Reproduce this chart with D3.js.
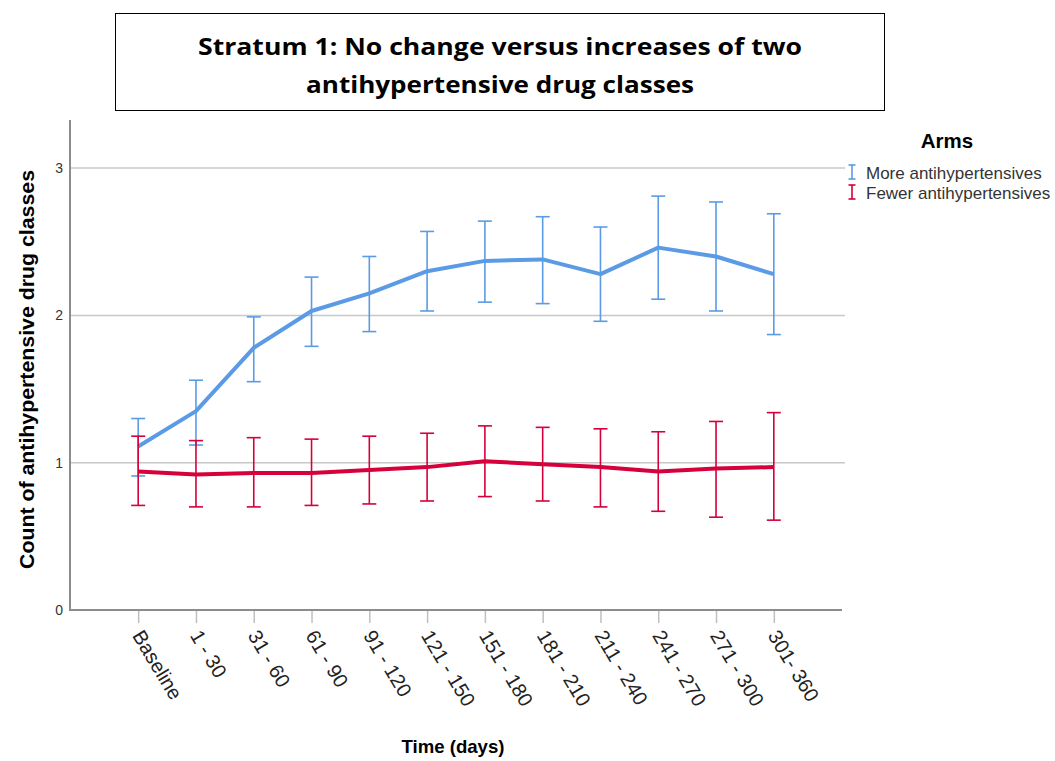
<!DOCTYPE html>
<html><head><meta charset="utf-8">
<script src="https://cdn.jsdelivr.net/npm/d3@7/dist/d3.min.js"></script>
<style>body{margin:0;background:#fff;} svg{display:block;}</style>
</head><body>
<svg id="chart" width="1055" height="761"></svg>
<script>
const categories = ["Baseline","1 - 30","31 - 60","61 - 90","91 - 120","121 - 150","151 - 180","181 - 210","211 - 240","241 - 270","271 - 300","301- 360"];
const moreMean  = [1.11,1.35,1.78,2.03,2.15,2.30,2.37,2.38,2.28,2.46,2.40,2.28];
const moreUpper = [1.30,1.56,1.99,2.26,2.40,2.57,2.64,2.67,2.60,2.81,2.77,2.69];
const moreLower = [0.91,1.12,1.55,1.79,1.89,2.03,2.09,2.08,1.96,2.11,2.03,1.87];
const fewerMean  = [0.94,0.92,0.93,0.93,0.95,0.97,1.01,0.99,0.97,0.94,0.96,0.97];
const fewerUpper = [1.18,1.15,1.17,1.16,1.18,1.20,1.25,1.24,1.23,1.21,1.28,1.34];
const fewerLower = [0.71,0.70,0.70,0.71,0.72,0.74,0.77,0.74,0.70,0.67,0.63,0.61];
const yTicks = [0,1,2,3];
const seriesNames = ["More antihypertensives","Fewer antihypertensives"];
const colors = ["#5b9be6","#d5003c"];

const FONT = "Liberation Sans, Arial, sans-serif";
const svg = d3.select("#chart");
const L = 70, R = 842, T = 120, B = 610;
const x = d3.scalePoint().domain(categories).range([L, R]).padding(1.18);
const y = d3.scaleLinear().domain([0, 3]).range([B, B - 3*147.3]);

// title box
svg.append("rect").attr("x",115.5).attr("y",13.5).attr("width",769).attr("height",97)
  .attr("fill","#fff").attr("stroke","#000").attr("stroke-width",1);
svg.append("text").attr("x",500).attr("y",54.5).attr("text-anchor","middle")
  .attr("font-family","Open Sans, sans-serif").attr("font-weight","bold").attr("font-size",23)
  .attr("textLength",604).attr("lengthAdjust","spacingAndGlyphs")
  .text("Stratum 1: No change versus increases of two");
svg.append("text").attr("x",500).attr("y",93).attr("text-anchor","middle")
  .attr("font-family","Open Sans, sans-serif").attr("font-weight","bold").attr("font-size",23)
  .attr("textLength",388).attr("lengthAdjust","spacingAndGlyphs")
  .text("antihypertensive drug classes");

// gridlines
svg.append("g").selectAll("line").data(yTicks.filter(d=>d>0)).join("line")
  .attr("x1",L).attr("x2",R+3).attr("y1",d=>y(d)).attr("y2",d=>y(d))
  .attr("stroke","#c8c8c8").attr("stroke-width",1.5);

// y axis
const yAxis = d3.axisLeft(y).tickValues(yTicks).tickSize(0).tickPadding(7).tickFormat(d3.format("d"));
const gy = svg.append("g").attr("transform",`translate(${L},0)`).call(yAxis);
gy.select(".domain").remove();
gy.selectAll("text").attr("font-family",FONT).attr("font-size",14).attr("fill","#333");
svg.append("line").attr("x1",L).attr("x2",L).attr("y1",T).attr("y2",B+1).attr("stroke","#8c8c8c").attr("stroke-width",2);

// x axis
const xAxis = d3.axisBottom(x).tickSize(13).tickPadding(0).tickSizeOuter(0);
const gx = svg.append("g").attr("transform",`translate(0,${B})`).call(xAxis);
gx.select(".domain").remove();
gx.selectAll(".tick line").attr("stroke","#c0c0c0").attr("stroke-width",1.5);
gx.selectAll("text").attr("font-family",FONT).attr("font-size",20).attr("fill","#222")
  .attr("text-anchor","start").attr("y",0).attr("dy","0.35em")
  .attr("transform","translate(-1,22) rotate(59)");
svg.append("line").attr("x1",L-1).attr("x2",R).attr("y1",B).attr("y2",B).attr("stroke","#8c8c8c").attr("stroke-width",2);

// axis titles
svg.append("text").attr("transform",`translate(33.5,369.5) rotate(-90)`).attr("text-anchor","middle")
  .attr("font-family",FONT).attr("font-weight","bold").attr("font-size",21)
  .attr("textLength",399).attr("lengthAdjust","spacingAndGlyphs")
  .text("Count of antihypertensive drug classes");
svg.append("text").attr("x",453).attr("y",753).attr("text-anchor","middle")
  .attr("font-family",FONT).attr("font-weight","bold").attr("font-size",18.6)
  .text("Time (days)");

// series
const series = [
  {mean: moreMean, upper: moreUpper, lower: moreLower, color: colors[0]},
  {mean: fewerMean, upper: fewerUpper, lower: fewerLower, color: colors[1]}
];
const capW = 7;
series.forEach(s => {
  const g = svg.append("g");
  const idx = d3.range(categories.length);
  g.selectAll(".v").data(idx).join("line")
    .attr("x1",i=>x(categories[i])).attr("x2",i=>x(categories[i]))
    .attr("y1",i=>y(s.upper[i])).attr("y2",i=>y(s.lower[i]))
    .attr("stroke",s.color).attr("stroke-width",1.6);
  ["upper","lower"].forEach(k => {
    g.selectAll(".c"+k).data(idx).join("line")
      .attr("x1",i=>x(categories[i])-capW).attr("x2",i=>x(categories[i])+capW)
      .attr("y1",i=>y(s[k][i])).attr("y2",i=>y(s[k][i]))
      .attr("stroke",s.color).attr("stroke-width",1.6);
  });
  const line = d3.line().x((d,i)=>x(categories[i])).y(d=>y(d));
  g.append("path").datum(s.mean).attr("d",line).attr("fill","none")
    .attr("stroke",s.color).attr("stroke-width",4).attr("stroke-linejoin","round");
});

// legend
svg.append("text").attr("x",947).attr("y",148).attr("text-anchor","middle")
  .attr("font-family",FONT).attr("font-weight","bold").attr("font-size",20.5)
  .text("Arms");
seriesNames.forEach((n,i) => {
  const yy = 172 + i*20;
  const g = svg.append("g");
  g.append("line").attr("x1",852).attr("x2",852).attr("y1",yy-7).attr("y2",yy+7).attr("stroke",colors[i]).attr("stroke-width",1.6);
  g.append("line").attr("x1",848.5).attr("x2",855.5).attr("y1",yy-7).attr("y2",yy-7).attr("stroke",colors[i]).attr("stroke-width",1.6);
  g.append("line").attr("x1",848.5).attr("x2",855.5).attr("y1",yy+7).attr("y2",yy+7).attr("stroke",colors[i]).attr("stroke-width",1.6);
  g.append("text").attr("x",866).attr("y",yy+7).attr("font-family",FONT)
    .attr("font-size",17).attr("fill","#333").text(n);
});
</script>
</body></html>
